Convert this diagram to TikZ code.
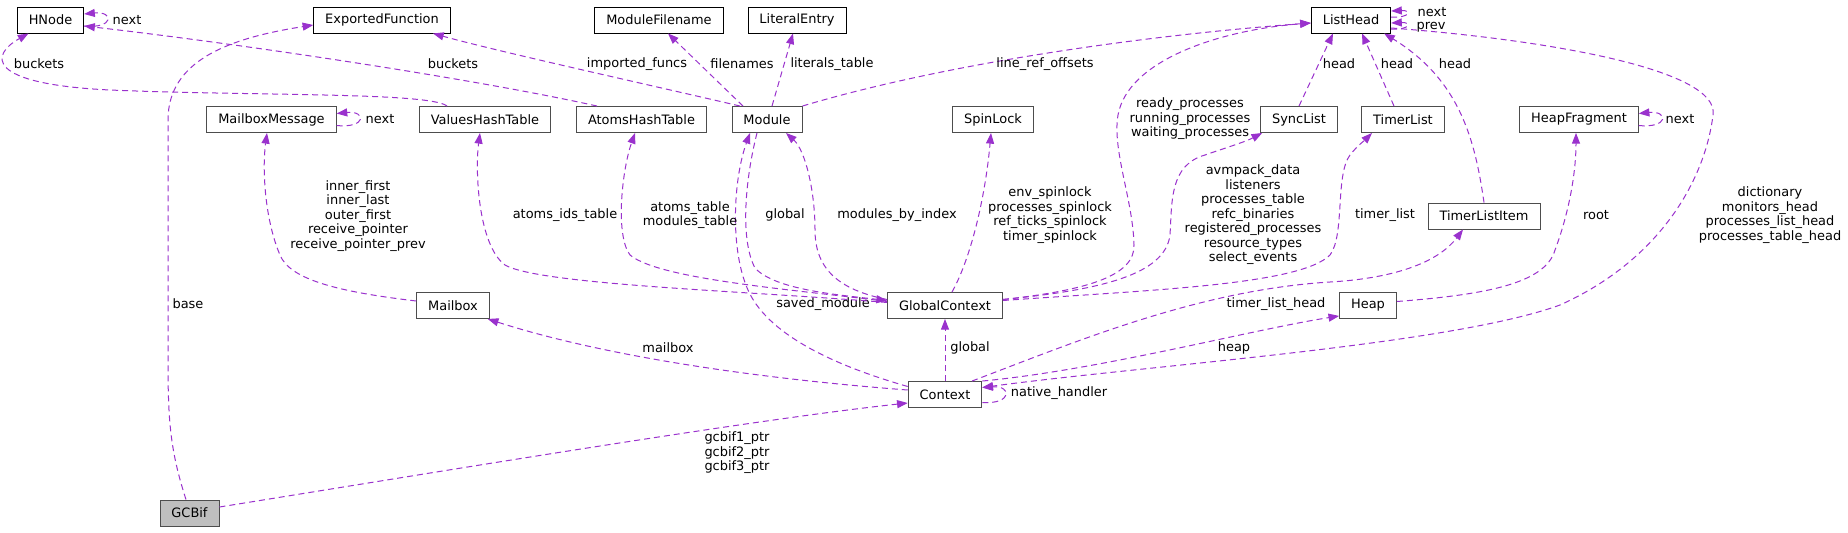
\documentclass[tikz,border=0pt]{standalone}
\usepackage{fontspec}
\setmainfont{DejaVu Sans}
\usetikzlibrary{arrows.meta,calc}
\definecolor{edgecol}{HTML}{9A32CD}
\definecolor{boxgrey}{HTML}{4D4D4D}
\definecolor{rootfill}{HTML}{BFBFBF}
\begin{document}
\begin{tikzpicture}[x=0.75pt,y=-0.75pt,
  cls/.style={draw=black,line width=0.7pt,fill=white,font=\fontsize{9.7}{11.6}\selectfont,inner xsep=8.6pt,inner ysep=0pt,minimum height=19.5pt},
  dcls/.style={cls,draw=boxgrey},
  rcls/.style={cls,draw=boxgrey,fill=rootfill},
  edge/.style={draw=edgecol,line width=0.75pt,dash pattern=on 4.5pt off 3pt,-{Triangle[length=8pt,width=6pt,fill=edgecol]}},
  lbl/.style={font=\fontsize{9.7}{10.9}\selectfont,align=center,inner sep=0pt,text=black}]
\useasboundingbox (0,0) rectangle (1848,532);
\fill[white] (0,0) rectangle (1848,532);

% nodes
\node[cls] (hn) at (50.5,20) {HNode};
\node[cls] (ef) at (382,20) {ExportedFunction};
\node[cls] (mf) at (659,20) {ModuleFilename};
\node[cls] (le) at (797,20) {LiteralEntry};
\node[cls] (lh) at (1351,20) {ListHead};
\node[dcls] (mm) at (271.5,119.5) {MailboxMessage};
\node[dcls] (vh) at (485,119.5) {ValuesHashTable};
\node[dcls] (ah) at (641.5,119.5) {AtomsHashTable};
\node[dcls] (mo) at (767,119.5) {Module};
\node[dcls] (sl) at (993,119.5) {SpinLock};
\node[dcls] (sy) at (1299,119.5) {SyncList};
\node[dcls] (tl) at (1403,119.5) {TimerList};
\node[dcls] (hf) at (1579,119.5) {HeapFragment};
\node[dcls] (tli) at (1484,216) {TimerListItem};
\node[dcls] (mb) at (453,305.5) {Mailbox};
\node[dcls] (gc) at (945,305.5) {GlobalContext};
\node[dcls] (hp) at (1368,305.5) {Heap};
\node[dcls] (cx) at (945,394.5) {Context};
\node[rcls] (gb) at (189.5,513) {GCBif};

% HNode self loop
\draw[edge] ($(hn.east)+(0,6)$) .. controls +(30,3) and +(30,-3) .. ($(hn.east)+(0,-6)$);
\node[lbl] (l1) at (127,20) {next};
% ValuesHashTable -> HNode
\draw[edge] ($(vh.north)+(-38,0)$) .. controls (430,92) and (250,96) .. (110,90)
  .. controls (-15,84) and (-10,55) .. ($(hn.south)+(-22,0)$);
\node[lbl] (l2) at (39,64) {buckets};
% AtomsHashTable -> HNode
\draw[edge] ($(ah.north)+(-44.5,0)$) .. controls (480,80) and (250,45) .. ($(hn.east)+(0,6)$);
\node[lbl] (l3) at (453,64) {buckets};
% Module -> ExportedFunction
\draw[edge] ($(mo.north)+(-27,0)$) .. controls (650,85) and (500,52) .. ($(ef.south)+(51,0)$);
\node[lbl] (l4) at (637,64) {imported\_funcs};
% Module -> ModuleFilename
\draw[edge] ($(mo.north)+(-24,0)$) -- ($(mf.south)+(9,0)$);
\node[lbl] (l5) at (742,64) {filenames};
% Module -> LiteralEntry
\draw[edge] ($(mo.north)+(5,0)$) -- ($(le.south)+(-4,0)$);
\node[lbl] (l6) at (832,64) {literals\_table};
% Module -> ListHead
\draw[edge] (mo.north east) .. controls (950,62) and (1150,35) .. ($(lh.west)+(0,3)$);
\node[lbl] (l7) at (1045,64) {line\_ref\_offsets};
% ListHead self loops
\draw[edge] ($(lh.east)+(0,-3)$) .. controls +(20,1) and +(20,-1) .. ($(lh.east)+(0,-9)$);
\draw[edge] ($(lh.east)+(0,9)$) .. controls +(20,1) and +(20,-1) .. ($(lh.east)+(0,3)$);
\node[lbl] (l8) at (1432,12) {next};
\node[lbl] (l9) at (1431,27) {prev};
% GlobalContext -> ListHead
\draw[edge] ($(gc.east)+(0,-6)$) .. controls (1090,290) and (1135,275) .. (1134,245)
  .. controls (1133,200) and (1112,150) .. (1118,115)
  .. controls (1128,60) and (1220,30) .. ($(lh.west)+(0,3)$);
\node[lbl] (l10) at (1190,119) {ready\_processes\\running\_processes\\waiting\_processes};
% GlobalContext -> SpinLock
\draw[edge] ($(gc.north)+(7,0)$) .. controls (970,260) and (985,200) .. ($(sl.south)+(-2,0)$);
\node[lbl] (l11) at (1050,215) {env\_spinlock\\processes\_spinlock\\ref\_ticks\_spinlock\\timer\_spinlock};
% GlobalContext -> SyncList
\draw[edge] ($(gc.east)+(0,-6)$) .. controls (1100,290) and (1165,275) .. (1170,235)
  .. controls (1172,200) and (1170,165) .. (1205,155)
  .. controls (1225,148) and (1245,142) .. ($(sy.south west)+(2,0)$);
\node[lbl] (l12) at (1253,215) {avmpack\_data\\listeners\\processes\_table\\refc\_binaries\\registered\_processes\\resource\_types\\select\_events};
% GlobalContext -> TimerList
\draw[edge] ($(gc.east)+(0,-5)$) .. controls (1150,290) and (1300,285) .. (1330,255)
  .. controls (1345,235) and (1335,175) .. (1350,155)
  .. controls (1357,146) and (1365,140) .. ($(tl.south)+(-31,0)$);
\node[lbl] (l13) at (1385,215) {timer\_list};
% GlobalContext -> Module (modules_by_index)
\draw[edge] ($(gc.west)+(0,-6)$) .. controls (840,290) and (815,270) .. (815,230)
  .. controls (815,190) and (805,150) .. ($(mo.south)+(19,0)$);
\node[lbl] (l14) at (897,215) {modules\_by\_index};
% Module -> GlobalContext (global)
\draw[edge] ($(mo.south)+(-10,0)$) .. controls (745,180) and (740,240) .. (755,268)
  .. controls (775,290) and (840,295) .. ($(gc.west)+(0,-5)$);
\node[lbl] (l15) at (785,215) {global};
% Context -> Module (saved_module)
\draw[edge] ($(cx.west)+(0,-8)$) .. controls (850,370) and (770,340) .. (748,290)
  .. controls (730,250) and (733,180) .. ($(mo.south)+(-17,0)$);
\node[lbl] (l16) at (823,304) {saved\_module};
% GlobalContext -> AtomsHashTable
\draw[edge] ($(gc.west)+(0,-4)$) .. controls (800,290) and (660,280) .. (630,255)
  .. controls (615,235) and (622,170) .. ($(ah.south)+(-6.5,0)$);
\node[lbl] (l17) at (690,215) {atoms\_table\\modules\_table};
% GlobalContext -> ValuesHashTable
\draw[edge] ($(gc.west)+(0,-3)$) .. controls (750,291) and (540,285) .. (505,265)
  .. controls (478,245) and (475,170) .. ($(vh.south)+(-5,0)$);
\node[lbl] (l18) at (565,215) {atoms\_ids\_table};
% Mailbox -> MailboxMessage
\draw[edge] ($(mb.west)+(0,-4.5)$) .. controls (340,292) and (290,280) .. (280,255)
  .. controls (265,220) and (262,170) .. ($(mm.south)+(-4.5,0)$);
\node[lbl] (l19) at (358,216) {inner\_first\\inner\_last\\outer\_first\\receive\_pointer\\receive\_pointer\_prev};
% MailboxMessage self loop
\draw[edge] ($(mm.east)+(0,6)$) .. controls +(30,3) and +(30,-3) .. ($(mm.east)+(0,-6)$);
\node[lbl] (l20) at (380,119.5) {next};
% GCBif -> ExportedFunction
\draw[edge] ($(gb.north)+(-3.5,0)$) .. controls (170,450) and (168,420) .. (168,360)
  -- (168,120) .. controls (168,60) and (230,38) .. ($(ef.west)+(0,5)$);
\node[lbl] (l21) at (188,304) {base};
% GCBif -> Context
\draw[edge] ($(gb.east)+(0,-6)$) .. controls (450,470) and (750,420) .. ($(cx.west)+(0,8.5)$);
\node[lbl] (l22) at (737,453) {gcbif1\_ptr\\gcbif2\_ptr\\gcbif3\_ptr};
% Context -> Mailbox
\draw[edge] ($(cx.west)+(0,-4.5)$) .. controls (750,378) and (600,355) .. ($(mb.south east)+(-2,0)$);
\node[lbl] (l23) at (668,348) {mailbox};
% Context -> GlobalContext
\draw[edge] (cx.north) -- (gc.south);
\node[lbl] (l24) at (970,348) {global};
% Context self loop
\draw[edge] ($(cx.east)+(0,8)$) .. controls +(30,2) and +(30,-2) .. ($(cx.east)+(0,-7)$);
\node[lbl] (l25) at (1059,393) {native\_handler};
% Context -> TimerListItem
\draw[edge] ($(cx.north)+(27,0)$) .. controls (1080,340) and (1200,290) .. (1330,282)
  .. controls (1400,278) and (1440,260) .. ($(tli.south)+(-21,0)$);
\node[lbl] (l26) at (1276,304) {timer\_list\_head};
% Context -> Heap
\draw[edge] (cx.north east) .. controls (1100,370) and (1250,330) .. ($(hp.south west)+(0,-3)$);
\node[lbl] (l27) at (1234,348) {heap};
% ListHead -> Context
\draw[edge] ($(lh.east)+(0,8)$) .. controls (1550,40) and (1720,70) .. (1713,115)
  .. controls (1705,180) and (1660,260) .. (1560,305)
  .. controls (1450,345) and (1150,365) .. ($(cx.east)+(0,-7)$);
\node[lbl] (l28) at (1770,215) {dictionary\\monitors\_head\\processes\_list\_head\\processes\_table\_head};
% SyncList -> ListHead
\draw[edge] (sy.north) -- ($(lh.south)+(-18,0)$);
\node[lbl] (l29) at (1339,64) {head};
% TimerList -> ListHead
\draw[edge] ($(tl.north)+(-9,0)$) -- ($(lh.south)+(11,0)$);
\node[lbl] (l30) at (1397,64) {head};
% TimerListItem -> ListHead
\draw[edge] (tli.north) .. controls (1475,140) and (1460,80) .. ($(lh.south east)+(-7,0)$);
\node[lbl] (l31) at (1455,64) {head};
% Heap -> HeapFragment
\draw[edge] ($(hp.east)+(0,-4)$) .. controls (1480,295) and (1545,285) .. (1555,250)
  .. controls (1570,210) and (1576,170) .. ($(hf.south)+(-3,0)$);
\node[lbl] (l32) at (1596,215) {root};
% HeapFragment self loop
\draw[edge] ($(hf.east)+(0,6)$) .. controls +(30,3) and +(30,-3) .. ($(hf.east)+(0,-6)$);
\node[lbl] (l33) at (1680,119.5) {next};
\end{tikzpicture}
\end{document}
